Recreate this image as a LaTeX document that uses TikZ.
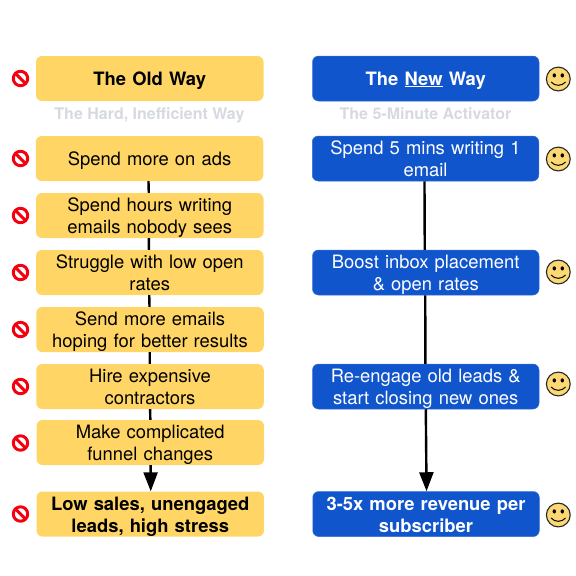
\documentclass[tikz,border=0pt]{standalone}
\usepackage{fontspec}
\setmainfont{TeX Gyre Heros}
\usetikzlibrary{arrows.meta}
\definecolor{oldfill}{HTML}{FFD666}
\definecolor{newfill}{HTML}{1155CC}
\definecolor{subgrey}{HTML}{D6D9E1}
\definecolor{signred}{HTML}{F4000F}
\definecolor{smile}{HTML}{FCD875}
\newcommand{\cardfont}{\fontsize{18.4}{21.8}\selectfont}
\tikzset{
  x=1pt,y=-1pt,
  card/.style={rounded corners=6pt,minimum width=227.5pt,minimum height=45pt,inner sep=0pt,
    text width=225pt,align=center,font=\cardfont},
  oneline/.style={text height=13pt,text depth=0pt},
  twolines/.style={text height=0pt,text depth=7.4pt},
  oldcard/.style={card,fill=oldfill,text=black},
  newcard/.style={card,minimum width=226.5pt,fill=newfill,draw=newfill!85!white,line width=.5pt,text=white},
  strong/.style={font=\cardfont\bfseries},
  subtitle/.style={anchor=base,text=subgrey,font=\fontsize{16}{18}\selectfont\bfseries,inner sep=0pt},
  link/.style={draw=black,line width=2.4pt},
  tip/.style={-{Triangle[length=19pt,width=14pt]}},
  pics/nosign/.style={code={
    \draw[signred,line width=3pt] (0,0) circle[radius=7.2];
    \draw[signred,line width=3pt] (-5,-5) -- (5,5);
  }},
  pics/smiley/.style={code={
    \draw[fill=smile,draw=black!85,line width=1.1pt] (0,0) circle[radius=11.9];
    \fill[black] (-4,-3.6) ellipse[x radius=1.7,y radius=2.1];
    \fill[black] (4,-3.6) ellipse[x radius=1.7,y radius=2.1];
    \draw[black,line width=1pt] (-7.2,3) .. controls (-3.5,7.4) and (3.5,7.4) .. (7.2,3);
  }},
}
\begin{document}
\begin{tikzpicture}
\useasboundingbox (0,0) rectangle (576,576);
\node[oldcard,strong,oneline] (oldhead) at (149.75,78.5) {The Old Way};
\node[newcard,strong,oneline] (newhead) at (425.75,78.5) {The \underline{New} Way};
\node[subtitle] (oldsub) at (149.5,119.5) {The Hard, Inefficient Way};
\node[subtitle] (newsub) at (425.5,119.5) {The 5-Minute Activator};

\node[oldcard,oneline] (a) at (149.5,158.5) {Spend more on ads};
\node[oldcard,twolines] (b) at (149.75,215.5) {Spend hours writing\\emails nobody sees};
\node[oldcard,twolines] (c) at (149.75,272.5) {Struggle with low open\\rates};
\node[oldcard,twolines] (d) at (150,329.5) {Send more emails\\hoping for better results};
\node[oldcard,twolines] (e) at (150,386.5) {Hire expensive\\contractors};
\node[oldcard,twolines] (f) at (150.25,442.5) {Make complicated\\funnel changes};
\node[oldcard,strong,twolines] (g) at (150.25,514) {Low sales, unengaged\\leads, high stress};

\node[newcard,twolines] (p) at (425.5,158.5) {Spend 5 mins writing 1\\email};
\node[newcard,twolines] (q) at (425.75,272.5) {Boost inbox placement\\\& open rates};
\node[newcard,twolines] (r) at (425.75,386.5) {Re-engage old leads \&\\start closing new ones};
\node[newcard,strong,twolines] (s) at (426,514) {3-5x more revenue per\\subscriber};

\draw[link] ([xshift=-1pt]a.south) -- ([xshift=-1pt]b.north);
\draw[link] ([xshift=-.9pt]b.south) -- ([xshift=-.8pt]c.north);
\draw[link] ([xshift=-.5pt]c.south) -- ([xshift=-.5pt]d.north);
\draw[link] ([xshift=-.3pt]d.south) -- ([xshift=-.2pt]e.north);
\draw[link] ([xshift=.1pt]e.south) -- ([xshift=.1pt]f.north);
\draw[link,tip] ([xshift=.3pt]f.south) -- ([xshift=.5pt]g.north);
\draw[link] ([xshift=-1pt]p.south) -- ([xshift=-1pt]q.north);
\draw[link] ([xshift=-.5pt]q.south) -- ([xshift=-.35pt]r.north);
\draw[link,tip] ([xshift=.05pt]r.south) -- ([xshift=.55pt]s.north);

\foreach \y in {78.5,158.5,215.5,272.5,329.5,386.5,443,514}
  \pic at (20.5,\y) {nosign};
\foreach \y in {79,159,272,384,515}
  \pic at (558.3,\y) {smiley};
\end{tikzpicture}
\end{document}
